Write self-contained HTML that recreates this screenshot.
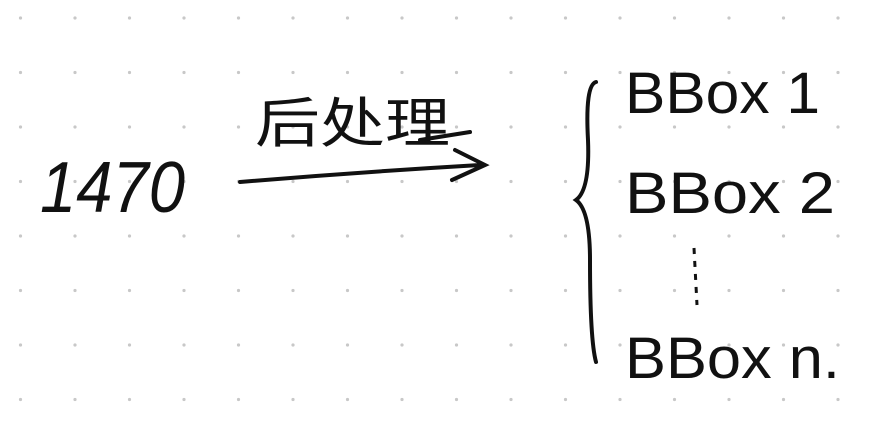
<!DOCTYPE html>
<html><head><meta charset="utf-8"><style>
body{margin:0;width:881px;height:428px;overflow:hidden;background:#fff}
svg{display:block}
text{font-family:"Liberation Sans","Noto Sans CJK SC",sans-serif;fill:#111}
</style></head><body>
<svg width="881" height="428">
<g id="dots"></g>
<text x="40" y="212" font-size="72" font-style="italic" textLength="145" lengthAdjust="spacingAndGlyphs">1470</text>
<text x="255" y="142" font-size="54" textLength="195" lengthAdjust="spacingAndGlyphs" font-family="Noto Sans CJK SC">后处理</text>
<path d="M240 182 Q360 172 480 165 M455 150 L485 165 L452 180 M420 140 L470 132" stroke="#111" stroke-width="4" fill="none" stroke-linecap="round"/>
<path d="M596 82 Q585 85 588 140 Q590 190 576 200 Q590 210 590 260 Q590 340 596 362" stroke="#111" stroke-width="4" fill="none" stroke-linecap="round"/>
<text x="625" y="113" font-size="58" textLength="195" lengthAdjust="spacingAndGlyphs">BBox 1</text>
<text x="625" y="213" font-size="58" textLength="210" lengthAdjust="spacingAndGlyphs">BBox 2</text>
<path d="M694 248 L697 305" stroke="#111" stroke-width="3" stroke-dasharray="6 7" fill="none"/>
<text x="625" y="378" font-size="58" textLength="215" lengthAdjust="spacingAndGlyphs">BBox n.</text>
</svg>
<script>
const g=document.getElementById('dots');
for(let x=20.5;x<881;x+=54.5)for(let y=18;y<428;y+=54.5){
const c=document.createElementNS('http://www.w3.org/2000/svg','circle');
c.setAttribute('cx',x);c.setAttribute('cy',y);c.setAttribute('r',1.6);c.setAttribute('fill','#c8c8c8');


g.appendChild(c);}
</script>
</body></html>
